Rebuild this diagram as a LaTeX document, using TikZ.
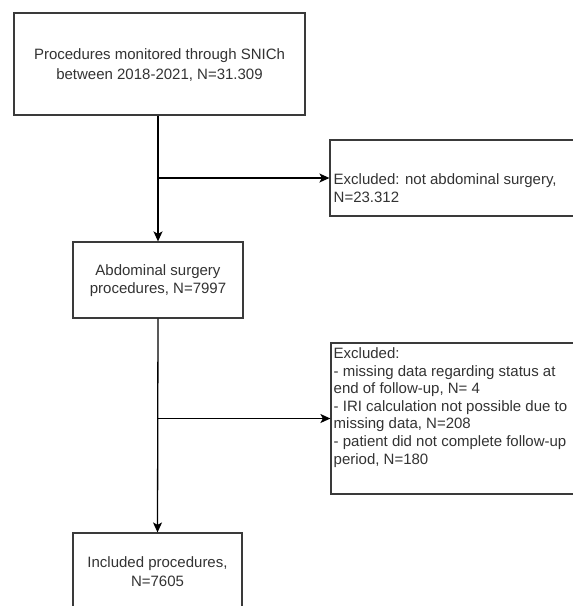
\documentclass[tikz,border=0pt]{standalone}
\usepackage{fontspec}
\setmainfont{Liberation Sans}
\usetikzlibrary{arrows.meta}
\definecolor{txtgray}{HTML}{333333}
\definecolor{linegray}{HTML}{3A3A3A}
\tikzset{
  box/.style={draw=linegray, line width=1.2pt, fill=white, rectangle, inner sep=0pt},
  ctxt/.style={text=txtgray, align=center, inner sep=0pt, font=\fontsize{15}{18.5}\selectfont},
  ltxt/.style={text=txtgray, align=left, anchor=west, inner sep=0pt, font=\fontsize{15}{17.6}\selectfont},
  arr/.style={draw=black, line width=1.3pt, -{Stealth[length=10pt,width=9pt,inset=2.5pt]}}
}
\begin{document}
\begin{tikzpicture}[x=1pt,y=-1pt]
\useasboundingbox (0,0) rectangle (573,606);
\fill[white] (0,0) rectangle (573,606);
\clip (0,0) rectangle (573,606);
% boxes
\node[box, minimum width=291pt, minimum height=102pt] (b1) at (159.5,64) {};
\node[box, minimum width=260pt, minimum height=76pt] (b2) at (460,178) {};
\node[box, minimum width=170pt, minimum height=76pt] (b3) at (158,280) {};
\node[box, minimum width=259pt, minimum height=151pt] (b4) at (460.5,418.5) {};
\node[box, minimum width=169pt, minimum height=87pt] (b5) at (157.5,576.5) {};
% texts
\node[ctxt, font=\fontsize{15}{19.5}\selectfont] (t1) at (159.5,65) {Procedures monitored through SNICh\\between 2018-2021, N=31.309};
\node[ltxt] (t2) at (333.5,188) {Excluded: not abdominal surgery,\\N=23.312};
\node[ctxt] (t3) at (158,280.5) {Abdominal surgery\\procedures, N=7997};
\node[ltxt] (t4) at (333.5,407.5) {Excluded:\\- missing data regarding status at\\end of follow-up, N= 4\\- IRI calculation not possible due to\\missing data, N=208\\- patient did not complete follow-up\\period, N=180};
\node[ctxt] (t5) at (157.5,571.5) {Included procedures,\\N=7605};
% connectors
\coordinate (s1) at (b3.north |- b1.south);
\coordinate (j1) at (b3.north |- b2.west);
\coordinate (j2) at (b3.south |- b4.west);
\draw[arr] (s1) -- (b3.north);
\draw[arr] (j1) -- (b2.west);
\draw[arr] (b3.south) -- (b5.north);
\draw[arr] (j2) -- (b4.west);
\end{tikzpicture}
\end{document}
